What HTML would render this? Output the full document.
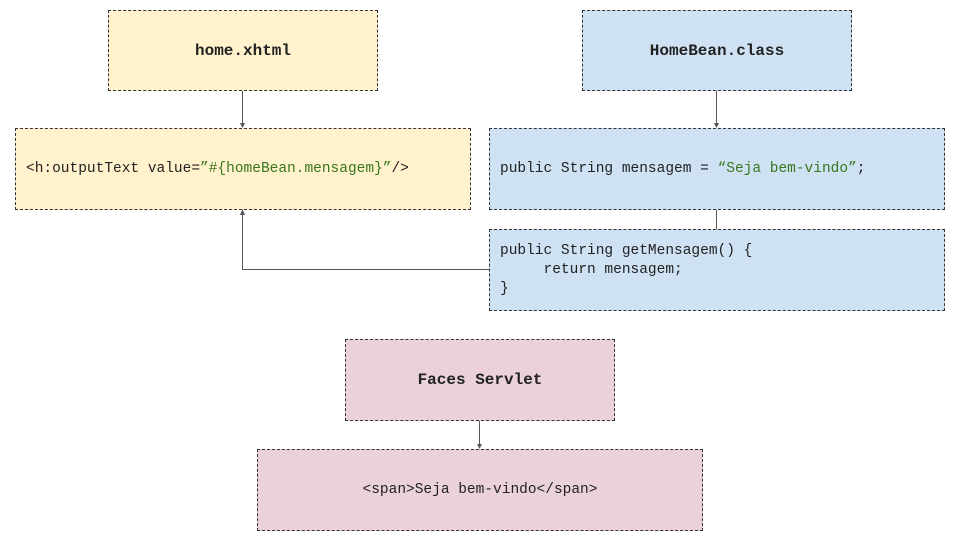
<!DOCTYPE html>
<html><head><style>
body{margin:0;width:960px;height:540px;background:#fff;position:relative;overflow:hidden;font-family:"Liberation Mono",monospace;}
.b{position:absolute;box-sizing:border-box;border:1px dashed #333;display:flex;align-items:center;font-size:14.5px;color:#222;}
.y{background:#fff2cc}.bl{background:#cfe2f3}.p{background:#ead1dc}
.c{justify-content:center;font-weight:bold;font-size:16px}
.g{color:#38761d}
</style></head><body>
<div class="b y c" style="left:108px;top:10px;width:270px;height:81px">home.xhtml</div>
<div class="b bl c" style="left:582px;top:10px;width:270px;height:81px">HomeBean.class</div>
<div class="b y" style="left:15px;top:128px;width:456px;height:82px;padding-left:10px"><div>&lt;h:outputText value=<span class="g">”#{homeBean.mensagem}”</span>/&gt;</div></div>
<div class="b bl" style="left:489px;top:128px;width:456px;height:82px;padding-left:10px"><div>public String mensagem = <span class="g">“Seja bem-vindo”</span>;</div></div>
<div class="b bl" style="left:489px;top:229px;width:456px;height:82px;padding-left:10px;white-space:pre;line-height:19px">public String getMensagem() {
     return mensagem;
}</div>
<div class="b p c" style="left:345px;top:339px;width:270px;height:82px">Faces Servlet</div>
<div class="b p" style="left:257px;top:449px;width:446px;height:82px;justify-content:center">&lt;span&gt;Seja bem-vindo&lt;/span&gt;</div>
<svg width="960" height="540" style="position:absolute;left:0;top:0" fill="none" stroke="#555" stroke-width="1">
<path d="M242.5 91V124M716.5 91V124M716.5 210V229M489 269.5H242.5V214M479.5 421V445"/>
<g fill="#555" stroke="none">
<path d="M240 123L245 123L242.5 128Z"/><path d="M714 123L719 123L716.5 128Z"/>
<path d="M240 215L245 215L242.5 209Z"/><path d="M477 444L482 444L479.5 449Z"/>
</g></svg>
</body></html>
